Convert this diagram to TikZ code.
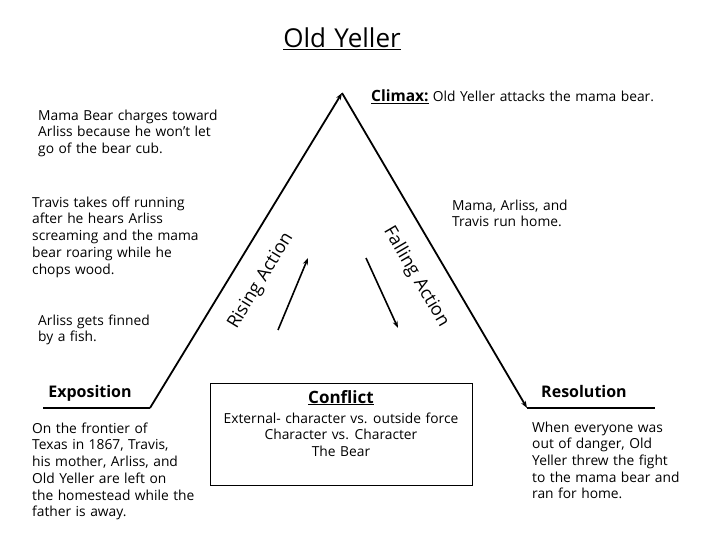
\documentclass[tikz,border=0pt]{standalone}
\usepackage{fontspec}
\setmainfont{Open Sans}[WordSpace=1.25]
\usetikzlibrary{arrows.meta, positioning}
\tikzset{
  plotline/.style = {line width=1.8pt, -{Stealth[length=7pt, width=5pt]}},
  baseline/.style = {line width=1.1pt},
  helper/.style = {line width=1.6pt, -{Stealth[length=7pt, width=5pt]}},
  blurb/.style = {align=left, anchor=north west, inner sep=0pt, font=\fontsize{13.8}{16.7}\selectfont},
  heading/.style = {font=\fontsize{16}{18}\selectfont\bfseries, inner sep=0pt, anchor=base},
  slope/.style = {font=\fontsize{18}{20}\selectfont, inner sep=0pt}
}

\begin{document}
\begin{tikzpicture}[x=1pt, y=-1pt]
  \useasboundingbox (0,0) rectangle (720,540);

  %% Plot diagram

  % Title
  \node[font=\fontsize{26}{28}\selectfont, inner sep=0pt, anchor=base] (title) at (342,48) {\underline{Old Yeller}};

  % Mountain
  \coordinate (expostart) at (43,408);
  \coordinate (expoend) at (150,408);
  \coordinate (climax) at (342,93);
  \coordinate (resstart) at (527,408);
  \coordinate (resend) at (655,408);
  \draw[baseline] (expostart) -- (expoend);
  \draw[plotline] (expoend) -- (climax);
  \draw[plotline] (climax) -- (resstart);
  \draw[baseline] (resstart) -- (resend);

  % Inner arrows
  \coordinate (risefrom) at (278,330);
  \coordinate (riseto) at (308,258);
  \coordinate (fallfrom) at (366,258);
  \coordinate (fallto) at (398,328);
  \draw[helper] (risefrom) -- (riseto);
  \draw[helper] (fallfrom) -- (fallto);
  \node[slope, rotate=58.6] (rising) at (261,281) {Rising Action};
  \node[slope, rotate=-59.6] (falling) at (416,277) {Falling Action};

  % Climax
  \node[anchor=base west, inner sep=0pt] (climaxlabel) at (371,102)
    {\fontsize{15.5}{18}\selectfont\bfseries\underline{Climax:}\fontsize{13.8}{15}\selectfont\mdseries{} Old Yeller attacks the mama bear.};

  % Rising action events
  \node[blurb] (charge) at (38,109.5) {Mama Bear charges toward\\Arliss because he won't let\\go of the bear cub.};
  \node[blurb] (running) at (32,196.5) {Travis takes off running\\after he hears Arliss\\screaming and the mama\\bear roaring while he\\chops wood.};
  \node[blurb] (finned) at (38,314.5) {Arliss gets finned\\by a fish.};

  % Falling action event
  \node[blurb] (home) at (452,199.5) {Mama, Arliss, and\\Travis run home.};

  % Exposition
  \node[heading] (expo) at (90,397) {Exposition};
  \node[blurb] (frontier) at (32,422.5) {On the frontier of\\Texas in 1867, Travis,\\his mother, Arliss, and\\Old Yeller are left on\\the homestead while the\\father is away.};

  % Conflict
  \node[draw, line width=1pt, minimum width=262pt, minimum height=102pt, inner sep=0pt] (conflictbox) at (341,434) {};
  \node[heading, font=\fontsize{17}{19}\selectfont\bfseries] (conflict) at (341,403) {\underline{Conflict}};
  \node[blurb, align=center, anchor=north] (conflicttext) at (341,412.5) {External- character vs. outside force\\Character vs. Character\\The Bear};

  % Resolution
  \node[heading] (res) at (584,397) {Resolution};
  \node[blurb] (danger) at (532,421.5) {When everyone was\\out of danger, Old\\Yeller threw the fight\\to the mama bear and\\ran for home.};

\end{tikzpicture}
\end{document}
